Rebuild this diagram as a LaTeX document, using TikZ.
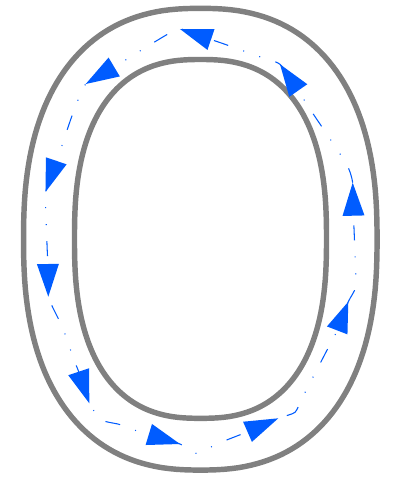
\documentclass[tikz,border=0pt]{standalone}
\usetikzlibrary{calc}
\definecolor{trackgray}{HTML}{808080}
\definecolor{flowblue}{HTML}{005CFF}
\tikzset{
  % bordo della pista
  track/.style={draw=trackgray, line width=3.1pt},
  % linea del flusso (tratto-punto-punto)
  flow/.style={draw=flowblue, line width=0.6pt,
    dash pattern=on 0.3cm off 0.32cm on 0.02cm off 0.32cm on 0.02cm off 0.32cm},
  % punta di freccia del flusso
  flowtip/.style={fill=flowblue},
}

\begin{document}
\begin{tikzpicture}[x=0.02cm, y=-0.02cm]
  \useasboundingbox (0,0) rectangle (394,478);
  % bordi esterno e interno
  \foreach \cx/\cy/\ra/\rb/\n in {200.3/239.2/176.75/230.85/2.4, 200.5/238.9/126/179.4/2.5}
    \draw[track] plot[domain=1:361, samples=181]
      ({\cx+\ra*sign(cos(\x))*abs(cos(\x))^(2/\n)}, {\cy+\rb*sign(sin(\x))*abs(sin(\x))^(2/\n)}) -- cycle;
  % base e punta di ogni freccia
  \foreach \k/\bx/\by/\tx/\ty in {1/353.5/215.7/352.7/182.7, 2/298.3/90.5/280/64.3,
    3/211/39.5/180/29, 4/114.2/67/85.7/84, 5/56.2/160.8/45.7/191.7, 6/47.9/264/48.3/296.7,
    7/78.7/371.7/89.3/403.3, 8/148.8/434.5/180/444, 9/247.5/431.8/278.3/418.3,
    10/337.2/330.4/348.3/301.7}
    {\coordinate (b\k) at (\bx,\by); \coordinate (t\k) at (\tx,\ty);}
  \draw[flow] plot[smooth cycle, tension=0.35] coordinates {(b1) (t1) (345.7,162.7) (309,107.7)
    (b2) (t2) (256.7,55.7) (225,44.3) (b3) (t3) (155,41.7) (126.7,59.3)
    (b4) (t4) (71.7,116.7) (60.7,149.3) (b5) (t5) (46,217) (47.3,251.7)
    (b6) (t6) (62.7,327.7) (74,360) (b7) (t7) (101.7,420) (119,424.3) (134.3,430)
    (b8) (t8) (196,453.3) (211.7,446.7) (226.7,440) (b9) (t9) (295,412.3) (302.7,397) (325,354)
    (b10) (t10) (355.7,286.7) (355,253)};
  \foreach \k in {1,...,10}
    \fill[flowtip] (t\k) -- ($(b\k)!0.22cm!90:(t\k)$) -- ($(b\k)!0.22cm!-90:(t\k)$) -- cycle;
\end{tikzpicture}
\end{document}
